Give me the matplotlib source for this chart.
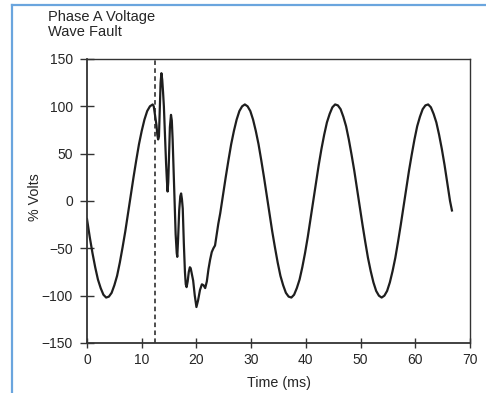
import matplotlib
matplotlib.use("Agg")
import matplotlib.pyplot as plt
from matplotlib.lines import Line2D

plt.rcParams['font.family'] = ['Liberation Sans', 'DejaVu Sans']

# ---- data ----
pre_t = [0.0, 0.5, 1.0, 1.5, 2.0, 2.5, 3.0, 3.5, 4.0, 4.5, 5.0, 5.5, 6.0,
         6.5, 7.0, 7.5, 8.0, 8.5, 9.0, 9.5, 10.0, 10.5, 11.0, 11.5, 12.0]
pre_v = [-19, -38, -55, -70, -83, -92, -99, -102, -101, -97, -89, -79, -65,
         -49, -32, -13, 6, 25, 43, 60, 74, 86, 95, 100, 102]

fault_t = [12.2, 12.4, 12.55, 12.7, 12.85, 13.0, 13.15, 13.3, 13.45, 13.6, 13.75,
           13.9, 14.05, 14.25, 14.45, 14.6, 14.73, 14.85, 15.0, 15.15, 15.35,
           15.5, 15.65, 15.8, 16.0, 16.2, 16.4, 16.5, 16.65, 16.85, 17.05, 17.2,
           17.35, 17.5, 17.7, 17.9, 18.05, 18.2, 18.4, 18.6, 18.8, 18.95, 19.2,
           19.4, 19.7, 20.0, 20.3, 20.65, 21.0, 21.3, 21.6, 21.9, 22.2, 22.5,
           22.8, 23.1, 23.4, 23.8, 24.0]
fault_v = [100, 92, 86, 80, 70, 65, 68, 95, 125, 135, 128,
           115, 100, 70, 40, 22, 10, 20, 50, 78, 91,
           85, 65, 38, 0, -35, -55, -59, -40, -10, 5, 8,
           2, -8, -45, -75, -88, -91, -85, -75, -70, -71, -78,
           -84, -100, -112, -105, -94, -88, -89, -92, -85, -72, -62,
           -54, -50, -47, -32, -24]

post_t = [24.35, 24.85, 25.35, 25.85, 26.35, 26.85, 27.35, 27.85, 28.35, 28.85,
          29.35, 29.85, 30.35, 30.85, 31.35, 31.85, 32.35, 32.85, 33.35, 33.85,
          34.35, 34.85, 35.35, 35.85, 36.35, 36.85, 37.35, 37.85, 38.35, 38.85,
          39.35, 39.85, 40.35, 40.85, 41.35, 41.85, 42.35, 42.85, 43.35, 43.85,
          44.35, 44.85, 45.35, 45.85, 46.35, 46.85, 47.35, 47.85, 48.35, 48.85,
          49.35, 49.85, 50.35, 50.85, 51.35, 51.85, 52.35, 52.85, 53.35, 53.85,
          54.35, 54.85, 55.35, 55.85, 56.35, 56.85, 57.35, 57.85, 58.35, 58.85,
          59.35, 59.85, 60.35, 60.85, 61.35, 61.85, 62.35, 62.85, 63.35, 63.85,
          64.35, 64.85, 65.35, 65.85, 66.35, 66.7]
post_v = [-13, 6, 25, 43, 60, 74, 86, 95, 100, 102,
          100, 95, 86, 74, 60, 43, 25, 6, -13, -32,
          -49, -65, -79, -89, -97, -101, -102, -99, -92, -83,
          -70, -55, -38, -19, 0, 19, 38, 55, 70, 83,
          92, 99, 102, 101, 97, 89, 79, 65, 49, 32,
          13, -6, -25, -43, -60, -74, -86, -95, -100, -102,
          -100, -95, -86, -74, -60, -43, -25, -6, 13, 32,
          49, 65, 79, 89, 97, 101, 102, 99, 92, 83,
          70, 55, 38, 19, 0, -10]

fault_time = 12.45
x_ticks = [0, 10, 20, 30, 40, 50, 60, 70]
y_ticks = [-150, -100, -50, 0, 50, 100, 150]
y_tick_labels = ['\u2212150', '\u2212100', '\u221250', '0', '50', '100', '150']
title_text = "Phase A Voltage\nWave Fault"
x_label = "Time (ms)"
y_label = "% Volts"

t = pre_t + fault_t + post_t
v = pre_v + fault_v + post_v

W, H = 486, 393
fig = plt.figure(figsize=(W / 100, H / 100), dpi=100)
left, right, top, bottom = 87, 470, 59, 343
ax = fig.add_axes([left / W, 1 - bottom / H, (right - left) / W, (bottom - top) / H])

txt = '#262626'
ax.plot(t, v, color='#1e1e1e', lw=1.6, solid_joinstyle='round')
ax.axvline(fault_time, color='#1e1e1e', lw=1.1, ls=(0, (3, 2.2)))

ax.set_xlim(0, 70)
ax.set_ylim(-150, 150)
ax.set_xticks(x_ticks)
ax.set_yticks(y_ticks)
ax.set_yticklabels(y_tick_labels)

for s in ax.spines.values():
    s.set_color('#333333')
    s.set_linewidth(1.0)
ax.spines['left'].set_linewidth(1.3)
ax.spines['bottom'].set_linewidth(1.3)

ax.tick_params(axis='y', direction='inout', length=9.5, width=1.0, pad=5.5,
               labelsize=10, labelcolor=txt, color='#333333')
ax.tick_params(axis='x', direction='inout', length=7.5, width=1.0, pad=3.5,
               labelsize=10, labelcolor=txt, color='#333333')

fig.text(278.5 / W, 1 - 376 / H, x_label, ha='center', va='top', fontsize=10.3, color=txt)
fig.text(35 / W, 1 - 197 / H, y_label, ha='center', va='center', rotation=90,
         fontsize=10.3, color=txt)
fig.text(47.5 / W, 1 - 9.5 / H, title_text, ha='left', va='top', fontsize=10.5,
         color=txt, linespacing=1.18)

# screenshot frame (blue lines at left and top)
blue = '#6aa5de'
fig.add_artist(Line2D([12 / W, 12 / W], [0, 1 - 5 / H], color=blue, lw=1.6,
                      transform=fig.transFigure))
fig.add_artist(Line2D([12 / W, 1], [1 - 5 / H, 1 - 5 / H], color=blue, lw=1.6,
                      transform=fig.transFigure))

fig.savefig('out.png', dpi=100)
